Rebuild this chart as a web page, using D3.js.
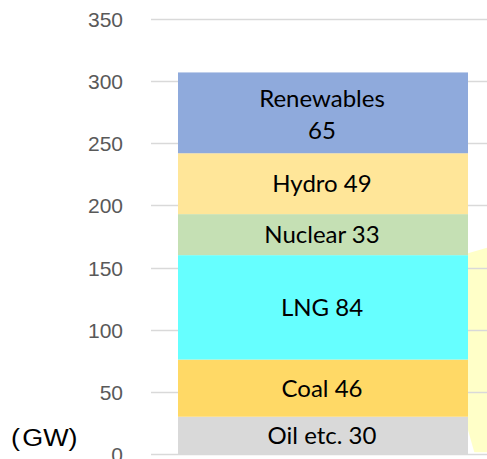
<!DOCTYPE html>
<html>
<head>
<meta charset="utf-8">
<script src="https://cdn.jsdelivr.net/npm/d3@7"></script>
<style>
  html, body { margin: 0; padding: 0; background: #fff; }
  svg { display: block; }
</style>
</head>
<body>
<svg id="chart" width="487" height="459"></svg>
<script>
// ---- data ----
const categories = ["Total"];
const sources = ["Oil etc.", "Coal", "LNG", "Nuclear", "Hydro", "Renewables"];
const values = [30, 46, 84, 33, 49, 65];
const colors = ["#d9d9d9", "#ffd966", "#66ffff", "#c5e0b4", "#ffe699", "#8faadc"];
const yTicks = [0, 50, 100, 150, 200, 250, 300, 350];
const unitLabel = ["(", "GW)"];

// ---- layout ----
const svg = d3.select("#chart");
const y = d3.scaleLinear().domain([0, 350]).range([454, 19]);
const x = d3.scaleBand().domain(categories).range([178, 468]).padding(0);

// decorative pale yellow shape at right edge (behind gridlines)
svg.append("path")
  .attr("d", "M468,253.3 L487,247.7 L487,452.3 L474.3,452.3 L468,430 Z")
  .attr("fill", "#ffffc8");

// gridlines
svg.append("g").selectAll("line").data(yTicks).join("line")
  .attr("x1", 151).attr("x2", 487)
  .attr("y1", d => Math.round(y(d)) + 0.5).attr("y2", d => Math.round(y(d)) + 0.5)
  .attr("stroke", "#d9d9d9").attr("stroke-width", 1.3);

// y axis labels
const yAxis = d3.axisLeft(y).tickValues(yTicks).tickSize(0).tickPadding(0);
const ag = svg.append("g").attr("transform", "translate(123,0)").call(yAxis);
ag.select(".domain").remove();
ag.selectAll("text")
  .attr("font-family", "'Liberation Sans', Arial, sans-serif")
  .attr("font-size", 21)
  .attr("fill", "#595959")
  .attr("dy", "0.36em");

// unit label
const ut = svg.append("text")
  .attr("transform", "translate(11,446) scale(1.17,1)")
  .attr("font-family", "'Liberation Sans', Arial, sans-serif")
  .attr("font-size", 23)
  .attr("fill", "#000");
ut.append("tspan").text(unitLabel[0]);
ut.append("tspan").attr("dx", 2).text(unitLabel[1]);

// stacked bar
const stacked = [];
let acc = 0;
sources.forEach((s, i) => {
  stacked.push({ name: s, value: values[i], y0: acc, y1: acc + values[i], color: colors[i] });
  acc += values[i];
});

const cat = categories[0];
svg.append("g").selectAll("rect").data(stacked).join("rect")
  .attr("x", x(cat))
  .attr("width", x.bandwidth())
  .attr("y", d => y(d.y1))
  .attr("height", d => y(d.y0) - y(d.y1))
  .attr("fill", d => d.color);

// labels
const cx = x(cat) + x.bandwidth() / 2 - 1;
const lg = svg.append("g")
  .attr("font-family", "Lato, 'Open Sans', sans-serif")
  .attr("font-size", 24)
  .attr("fill", "#000")
  .attr("text-anchor", "middle");

stacked.forEach(d => {
  const mid = (y(d.y0) + y(d.y1)) / 2;
  if (d.name === "Renewables") {
    lg.append("text").attr("x", cx).attr("y", mid - 6).text(d.name);
    lg.append("text").attr("x", cx).attr("y", mid + 26).text(d.value);
  } else {
    lg.append("text").attr("x", cx).attr("y", mid + 8.5).text(d.name + " " + d.value);
  }
});
</script>
</body>
</html>
